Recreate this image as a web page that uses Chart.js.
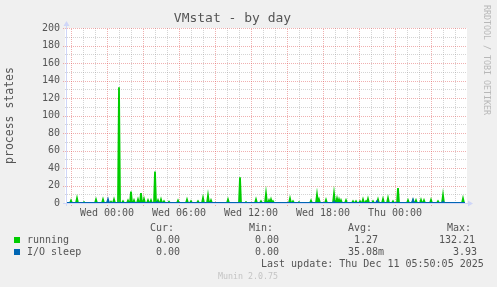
<!DOCTYPE html>
<html><head><meta charset="utf-8">
<script src="https://cdn.jsdelivr.net/npm/chart.js@4.4.1/dist/chart.umd.min.js"></script>
<style>
html,body{margin:0;padding:0;background:#F0F0F0;}
#wrap{position:relative;width:497px;height:287px;overflow:hidden;background:#F0F0F0;}
canvas{position:absolute;left:0;top:0;}
.t{position:absolute;font-family:'DejaVu Sans Mono',monospace;font-size:10px;line-height:12px;color:#555;white-space:pre;}
.sq{position:absolute;width:6px;height:6px;}
#wm{position:absolute;left:482px;top:5px;font-family:'DejaVu Sans Mono',monospace;font-size:8.3px;line-height:10px;color:#b8b8b8;writing-mode:vertical-rl;white-space:pre;}
#ver{position:absolute;left:218px;top:271px;font-family:'DejaVu Sans Mono',monospace;font-size:8.3px;line-height:10px;color:#c4c4c4;white-space:pre;}
</style></head><body>
<div id="wrap"><canvas id="c" width="497" height="287"></canvas></div>
<script>
// ---- data (5-minute samples, first sample at Tue 20:35, last at Thu 05:50) ----
const sampleStartMinute = -205;   // minutes relative to Wed 00:00
const sampleStepMinutes = 5;
const running = [
  0,0,0,0,0,2.7,0,0,0,0, 0,5.3,0,0,0,0,0,0,1,0,
  0,0,0,0,0,0,0,0,0,0, 3.8,0,0,0,0,0,0,4,0,0,
  0,0,2,0,0,1.5,0,0,4,0, 0,0,0,132.21,0,0,0,2,0,0,
  0,0,2.7,0,0,13,0,0,3,0, 0,0,4,0,0,11.4,0,0,4.5,0,
  0,0,3,0,0,3,0,0,0,36, 0,0,3,0,0,4,0,0,2,0,
  0,0,0,1.5,0,0,0,0,0,0, 0,0,2.7,0,0,0,0,0,0,0,
  0,3.8,0,0,0,2,0,0,0,0, 0,0,2,0,0,0,0,5.7,0,0,
  0,0,8.4,0,0,3,0,0,0,0, 0,0,0,0,0,0,0,0,0,0,
  0,0,3.8,0,0,0,0,0,0,0, 0,0,0,0,29.3,0,0,0,0,0,
  1,0,0,0,0,0,0,0,0,0, 4,0,0,0,0,2,0,0,0,0,
  10.7,0,0,3,0,4,0,2,0,0, 0,0,0,0,0,0,0,0,0,0,
  0,0,0,0,5,0,0,2,0,0, 0,0,0,1,0,0,0,0,0,0,
  0,0,0,0,0,2.7,0,0,0,0, 0,9.5,0,4,0,0,0,0,0,0,
  3.5,0,0,0,0,0,0,0,10.7,0, 0,5,0,4,0,3,0,0,0,0,
  3,0,0,0,0,0,0,2,0,0, 2,0,0,0,2,0,0,4,0,0,
  2,0,4.6,0,0,0,0,2,0,0, 0,0,4,0,0,0,0,4.5,0,0,
  0,0,5.3,0,0,0,0,2,0,0, 0,0,17,0,0,0,0,0,0,0,
  0,0,3,0,0,0,0,3,0,0, 3,0,0,0,0,3.5,0,0,3,0,
  0,0,0,0,0,3.5,0,0,0,0, 0,0,2,0,0,0,0,8.8,0,0,
  0,0,0,0,0,0,0,0,0,0, 0,0,0,0,0,0,0,5,0,0
];
const ioSleep = [
  0,0,0,0,0,0,0,0,0,0, 0,0,0,0,0,0,0,0,0,0,
  0,0,0,0,0,0,0,0,0,0, 0,0,0,0,0,0,0,0,0,0,
  0,0,3.93,0,0,0,0,0,0,0, 0,0,0,0,0,0,0,0,0,0,
  0,0,0,0,0,0,0,0,0,0, 0,0,0,0,0,0,0,0,0,0,
  0,0,0,0,0,0,0,0,0,0, 0,1,0,0,0,0,0,0,0,0,
  0,0,0,0,0,0,0,0,0,0, 0,0,0,0,0,0,0,0,0,0,
  0,0,0,0,0,0,0,0,0,0, 0,0,0,0,0,0,0,0,0,0,
  0,0,0,0,0,0,0,0,0,0, 0,0,0,0,0,0,0,0,0,0,
  0,0,0,0,0,0,0,0,0,0, 0,0,0,0,0,0,0,0,0,0,
  0,0,0,0,0,0,0,0,0,0, 0,0,0,0,0,0,0,0,0,0,
  0,0,0,0,0,0,0,0,0,0, 0,0,0,0,0,0,0,0,0,0,
  0,0,0,0,0,0,0,0,0,0, 0,0,0,0,0,0,0,0,0,0,
  0,0,0,0,0,0,0,0,0,0, 0,0,0,0,0,0,0,0,0,0,
  0,0,0,0,0,0,0,0,1.5,0, 0,0,0,0,0,0,0,0,0,0,
  0,0,0,0,0,0,0,0,0,0, 0,0,0,0,0,0,0,0,0,0,
  0,0,0,0,0,0,0,0,0,0, 0,2,0,0,0,0,0,0,0,0,
  0,0,0,0,0,0,0,0,0,0, 0,0,0,0,0,0,0,0,0,0,
  0,0,0,0,0,0,0,3.5,0,0, 0,0,0,0,0,0,0,0,0,0,
  0,0,0,0,0,0,0,0,0,0, 0,0,0,0,0,0,0,1.5,0,0,
  0,0,0,0,0,0,0,0,0,0, 0,0,0,0,0,0,0,0,0,0
];
const seriesNames = ['running', 'I/O sleep'];
const seriesColors = ['#00CC00', '#0066B3'];
const legendHeaders = ['Cur:', 'Min:', 'Avg:', 'Max:'];
const legendCur = ['0.00', '0.00'];
const legendMin = ['0.00', '0.00'];
const legendAvg = ['1.27', '35.08m'];
const legendMax = ['132.21', '3.93'];
const xMin = -210, xMax = 1790;
const xTickMinutes = [0, 360, 720, 1080, 1440];
const xTickLabels = ['Wed 00:00', 'Wed 06:00', 'Wed 12:00', 'Wed 18:00', 'Thu 00:00'];
const yTicks = [0, 20, 40, 60, 80, 100, 120, 140, 160, 180, 200];
const titleText = 'VMstat - by day';
const yAxisTitle = 'process states';
const lastUpdate = 'Last update: Thu Dec 11 05:50:05 2025';
const versionText = 'Munin 2.0.75';
const watermark = 'RRDTOOL / TOBI OETIKER';

// ---- styles ----
const FONT = "'DejaVu Sans Mono', monospace";
const TXT = '#555555';
const GRID = 'rgba(143,143,143,0.38)';
const MGRID = 'rgba(222,79,79,0.45)';
const AXIS = '#CFD6F8';

const toPoints = arr => arr.map((v, i) => ({x: sampleStartMinute + sampleStepMinutes * i, y: v}));

const muninPlugin = {
  id: 'munin',
  beforeDraw(chart) {
    const {ctx, chartArea: a} = chart;
    ctx.save();
    ctx.fillStyle = '#FFFFFF';
    ctx.fillRect(a.left, a.top, a.right - a.left + 2, a.bottom - a.top + 1);
    ctx.restore();
  },
  beforeDatasetsDraw(chart) {
    const {ctx, chartArea: a, scales: {x, y}} = chart;
    ctx.save();
    ctx.lineWidth = 1;
    ctx.setLineDash([1, 1]);
    const passes = [false, true];
    for (const majorPass of passes) {
      for (let t = -180; t <= 1740; t += 60) {
        const major = (t % 180 === 0);
        if (major !== majorPass) continue;
        const px = Math.floor(x.getPixelForValue(t)) + 0.5;
        ctx.strokeStyle = major ? MGRID : GRID;
        ctx.beginPath();
        ctx.moveTo(px, a.bottom + (major ? 3 : 0));
        ctx.lineTo(px, a.top);
        ctx.stroke();
      }
      for (let v = 10; v <= 200; v += 10) {
        const major = (v % 20 === 0);
        if (major !== majorPass) continue;
        const py = Math.round(y.getPixelForValue(v)) + 0.5;
        ctx.strokeStyle = major ? MGRID : GRID;
        ctx.beginPath();
        ctx.moveTo(a.left - (major ? 2 : 0), py);
        ctx.lineTo(a.right + 1, py);
        ctx.stroke();
      }
    }
    ctx.restore();
  },
  afterDatasetsDraw(chart) {
    const {ctx, chartArea: a} = chart;
    const ax = a.left + 1.5;
    const ay = Math.round(a.bottom) + 0.5;
    ctx.save();
    ctx.setLineDash([]);
    ctx.lineWidth = 1;
    ctx.strokeStyle = AXIS;
    ctx.fillStyle = AXIS;
    ctx.beginPath();
    ctx.moveTo(a.left - 2, ay);
    ctx.lineTo(a.right + 4, ay);
    ctx.moveTo(ax, a.bottom + 3);
    ctx.lineTo(ax, a.top - 3);
    ctx.stroke();
    ctx.beginPath();
    ctx.moveTo(a.right + 3, ay - 3);
    ctx.lineTo(a.right + 8, ay);
    ctx.lineTo(a.right + 3, ay + 3);
    ctx.closePath();
    ctx.fill();
    ctx.beginPath();
    ctx.moveTo(ax - 3, a.top - 2);
    ctx.lineTo(ax, a.top - 7);
    ctx.lineTo(ax + 3, a.top - 2);
    ctx.closePath();
    ctx.fill();
    ctx.restore();
  }
};

new Chart(document.getElementById('c'), {
  type: 'line',
  data: {
    datasets: [
      {label: seriesNames[0], data: toPoints(running), borderColor: seriesColors[0], borderWidth: 1.8,
       pointRadius: 0, tension: 0, fill: false, order: 2},
      {label: seriesNames[1], data: toPoints(ioSleep), borderColor: seriesColors[1], borderWidth: 1.8,
       pointRadius: 0, tension: 0, fill: false, order: 1}
    ]
  },
  options: {
    responsive: false,
    devicePixelRatio: 1,
    animation: false,
    events: [],
    layout: {padding: {left: 0, right: 32, top: 0, bottom: 0}},
    plugins: {
      legend: {display: false},
      tooltip: {enabled: false},
      title: {display: true, text: titleText, color: TXT,
              font: {family: FONT, size: 13, weight: 'normal', lineHeight: 1.2},
              padding: {top: 11, bottom: 1.4}}
    },
    scales: {
      x: {
        type: 'linear', min: xMin, max: xMax,
        grid: {display: false, drawTicks: false},
        border: {display: false},
        afterBuildTicks: s => { s.ticks = xTickMinutes.map(v => ({value: v})); },
        afterFit: s => { s.height = 84; },
        ticks: {
          color: TXT, font: {family: FONT, size: 10, lineHeight: 1.2}, padding: 4,
          maxRotation: 0, autoSkip: false,
          callback: v => { const k = xTickMinutes.indexOf(v); return k >= 0 ? xTickLabels[k] : ''; }
        }
      },
      y: {
        type: 'linear', min: 0, max: 200,
        grid: {display: false, drawTicks: false},
        border: {display: false},
        afterBuildTicks: s => { s.ticks = yTicks.map(v => ({value: v})); },
        afterFit: s => { s.width = 65; },
        ticks: {color: TXT, font: {family: FONT, size: 10, lineHeight: 1.2}, padding: 5,
                callback: v => String(v)},
        title: {display: true, text: yAxisTitle, color: TXT,
                font: {family: FONT, size: 11.5, weight: 'normal', lineHeight: 1.2}, padding: 3}
      }
    }
  },
  plugins: [muninPlugin]
});

// ---- legend / footer as text ----
const wrap = document.getElementById('wrap');
function addText(str, left, top, cls) {
  const d = document.createElement('div');
  d.className = cls || 't';
  d.textContent = str;
  d.style.left = left + 'px';
  d.style.top = top + 'px';
  wrap.appendChild(d);
  return d;
}
const colLeft = [150, 249, 348, 447];
legendHeaders.forEach((h, k) => addText(h, colLeft[k], 222));
const rowTop = [234, 246];
const cols = [legendCur, legendMin, legendAvg, legendMax];
const valLeftCur = [156, 156], valLeftMin = [255, 255], valLeftAvg = [354, 348], valLeftMax = [439, 453];
const valLefts = [valLeftCur, valLeftMin, valLeftAvg, valLeftMax];
seriesNames.forEach((name, r) => {
  const sq = document.createElement('div');
  sq.className = 'sq';
  sq.style.left = '14px';
  sq.style.top = (rowTop[r] + 3) + 'px';
  sq.style.background = seriesColors[r];
  wrap.appendChild(sq);
  addText(name, 27, rowTop[r]);
  cols.forEach((c, k) => addText(c[r], valLefts[k][r], rowTop[r]));
});
addText(lastUpdate, 261, 258);
const ver = document.createElement('div'); ver.id = 'ver'; ver.textContent = versionText; wrap.appendChild(ver);
const wm = document.createElement('div'); wm.id = 'wm'; wm.textContent = watermark; wrap.appendChild(wm);
</script>
</body></html>
